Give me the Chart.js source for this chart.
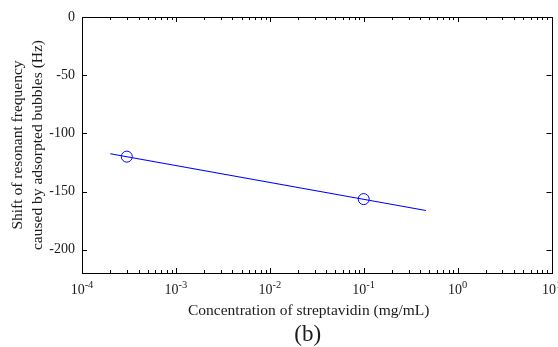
<!DOCTYPE html>
<html><head><meta charset="utf-8">
<script src="https://cdn.jsdelivr.net/npm/chart.js@4/dist/chart.umd.min.js"></script>
<style>html,body{margin:0;padding:0;background:#fff}#wrap{width:558px;height:347px}</style>
</head><body><div id="wrap"><canvas id="c" width="558" height="347"></canvas></div>
<script>
// Data
const measuredConc = [3e-4, 0.1];          // mg/mL
const measuredShift = [-120, -156.5];      // Hz
const fitConc = [2e-4, 0.46];
const fitShift = [-117.5, -166.3];
const xTickValues = [1e-4, 1e-3, 1e-2, 1e-1, 1, 10];
const xTickExponents = ['-4', '-3', '-2', '-1', '0', '1'];
const yTickValues = [-200, -150, -100, -50, 0];
const xTitle = 'Concentration of streptavidin (mg/mL)';
const yTitle = ['Shift of resonant frequency', 'caused by adsorpted bubbles (Hz)'];
const panelLabel = '(b)';

const FONT = '"Liberation Serif", "Times New Roman", serif';
const TXT = '#1a1a1a';

const framePlugin = {
  id: 'frame',
  afterDraw(chart) {
    const ctx = chart.ctx, a = chart.chartArea;
    const xs = chart.scales.x, ys = chart.scales.y;
    ctx.save();
    ctx.strokeStyle = '#000';
    ctx.lineWidth = 1;
    ctx.strokeRect(Math.round(a.left) + 0.5, Math.round(a.top) + 0.5,
                   Math.round(a.right - a.left), Math.round(a.bottom - a.top));
    ctx.beginPath();
    // y ticks (inward, both sides)
    yTickValues.forEach(v => {
      const y = Math.round(ys.getPixelForValue(v)) + 0.5;
      ctx.moveTo(a.left, y); ctx.lineTo(a.left + 5, y);
      ctx.moveTo(a.right, y); ctx.lineTo(a.right - 5, y);
    });
    // x ticks major + minor (inward, top and bottom)
    for (let e = -4; e <= 0; e++) {
      for (let m = 1; m <= 10; m++) {
        const v = m * Math.pow(10, e);
        const x = Math.round(xs.getPixelForValue(v)) + 0.5;
        const len = (m === 1 || m === 10) ? 5 : 3;
        ctx.moveTo(x, a.bottom); ctx.lineTo(x, a.bottom - len);
        ctx.moveTo(x, a.top); ctx.lineTo(x, a.top + len);
      }
    }
    ctx.stroke();
    // x tick labels with superscripts
    ctx.fillStyle = TXT;
    ctx.textBaseline = 'alphabetic';
    xTickValues.forEach((v, i) => {
      const x = xs.getPixelForValue(v);
      ctx.font = '14px ' + FONT;
      const wb = ctx.measureText('10').width;
      ctx.font = '10.5px ' + FONT;
      const we = ctx.measureText(xTickExponents[i]).width;
      const start = x - (wb + we) / 2;
      ctx.font = '14px ' + FONT;
      ctx.textAlign = 'left';
      ctx.fillText('10', start, a.bottom + 21);
      ctx.font = '10.5px ' + FONT;
      ctx.fillText(xTickExponents[i], start + wb, a.bottom + 15);
    });
    const cx = (a.left + a.right) / 2;
    // x-axis title
    ctx.textAlign = 'center';
    ctx.font = '15.5px ' + FONT;
    ctx.fillText(xTitle, cx - 8, 315);
    // panel label
    ctx.font = '23px ' + FONT;
    ctx.fillText(panelLabel, cx - 9, 341);
    ctx.restore();
  }
};

new Chart(document.getElementById('c'), {
  type: 'scatter',
  data: {
    datasets: [
      {
        type: 'line',
        data: fitConc.map((x, i) => ({x, y: fitShift[i]})),
        borderColor: '#0000ff', borderWidth: 1.2, pointRadius: 0, fill: false
      },
      {
        data: measuredConc.map((x, i) => ({x, y: measuredShift[i]})),
        borderColor: '#0000ff', backgroundColor: 'rgba(0,0,0,0)',
        pointRadius: 5.5, borderWidth: 1, pointStyle: 'circle'
      }
    ]
  },
  options: {
    responsive: false, animation: false,
    layout: {padding: {left: 0, right: 6, top: 17, bottom: 0}},
    plugins: {legend: {display: false}, tooltip: {enabled: false}},
    scales: {
      x: {
        type: 'logarithmic', min: 1e-4, max: 10,
        grid: {display: false, drawTicks: false}, border: {display: false},
        afterBuildTicks: s => { s.ticks = xTickValues.map(v => ({value: v})); },
        ticks: {callback: () => ''},
        afterFit: s => { s.height = 74; },
        title: {display: false}
      },
      y: {
        min: -220, max: 0,
        grid: {display: false, drawTicks: false}, border: {display: false},
        afterBuildTicks: s => { s.ticks = yTickValues.map(v => ({value: v})); },
        ticks: {color: TXT, font: {family: FONT, size: 14}, padding: 7},
        afterFit: s => { s.width = 82; },
        title: {display: true, text: yTitle, color: TXT,
                font: {family: FONT, size: 15.5, lineHeight: 20 / 15.5}, padding: {top: 8, bottom: 0}}
      }
    }
  },
  plugins: [framePlugin]
});
</script></body></html>
